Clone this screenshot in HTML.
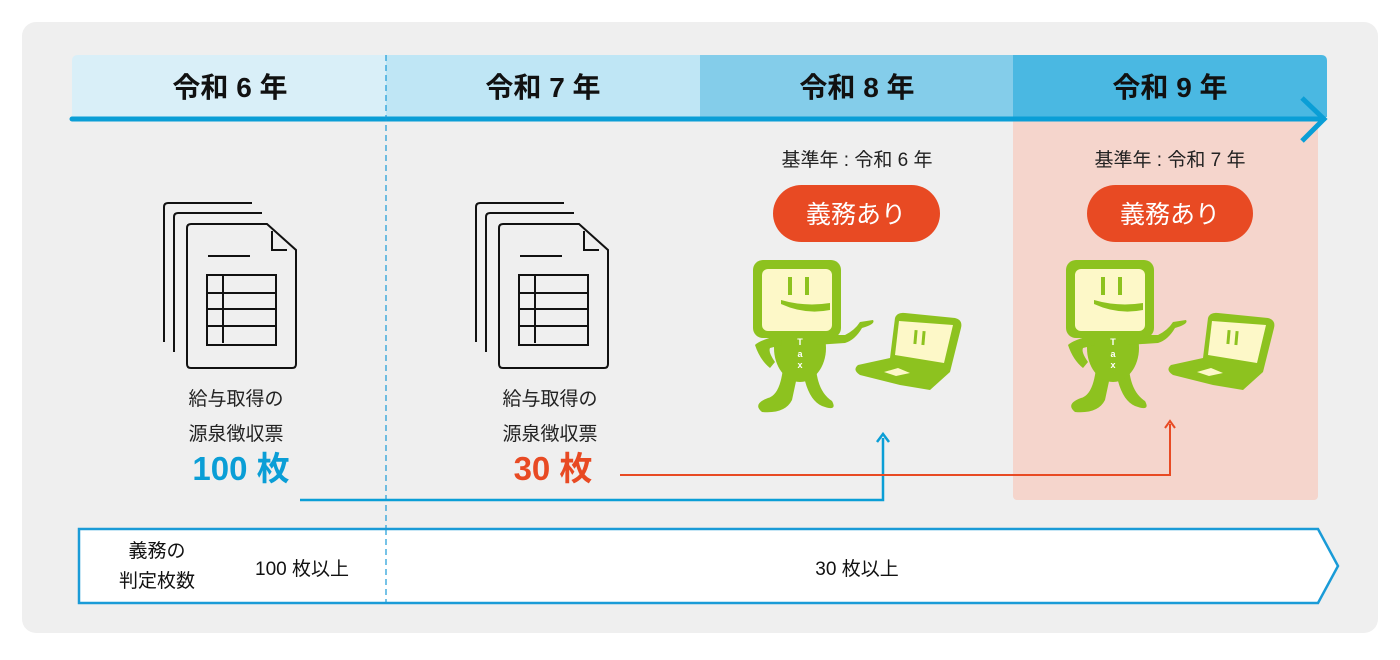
<!DOCTYPE html>
<html><head><meta charset="utf-8"><style>
html,body{margin:0;padding:0;background:#fff;}
body{width:1400px;height:655px;overflow:hidden;font-family:"Liberation Sans","Noto Sans CJK JP",sans-serif;}
</style></head><body>
<svg width="1400" height="655" viewBox="0 0 1400 655" xmlns="http://www.w3.org/2000/svg" font-family="Liberation Sans, Noto Sans CJK JP, sans-serif">
<defs>
<g id="doc" fill="none" stroke="#111" stroke-width="2">
  <path d="M164,342 V207 Q164,203 168,203 H252"/>
  <path d="M174,352 V217 Q174,213 178,213 H262"/>
  <path d="M187,364 V228 Q187,224 191,224 H267 L296,250 V364 Q296,368 292,368 H191 Q187,368 187,364 Z"/>
  <path d="M272,231 V250 H287"/>
  <path d="M208,256 H250"/>
  <rect x="207" y="275" width="69" height="70"/>
  <path d="M223,275 V343 M207,293 H276 M207,309 H276 M207,326 H276"/>
</g>
<g id="chr">
  <path d="M783,368 Q780,395 768,398 Q752,404 762,412 Q785,414 792,400 L798,372 Z" fill="#8dc21f"/>
  <path d="M803,372 Q808,400 822,406 Q838,412 832,401 Q818,392 816,368 Z" fill="#8dc21f"/>
  <ellipse cx="800" cy="348" rx="26" ry="34" fill="#8dc21f"/>
  <path d="M780,335 Q760,340 755,345 Q760,360 770,368 L775,362 Q768,352 770,348 L782,345 Z" fill="#8dc21f"/>
  <path d="M815,335 L845,335 Q855,330 860,322 L873,320 Q876,324 862,328 Q855,340 845,343 L815,345 Z" fill="#8dc21f"/>
  <rect x="753" y="260" width="88" height="78" rx="10" fill="#8dc21f"/>
  <rect x="762" y="269" width="70" height="62" rx="6" fill="#fdf8c8"/>
  <path d="M781,300 Q805,307 830,303 L830,310 Q805,315 781,304 Z" fill="#8dc21f"/>
  <rect x="788" y="277" width="4" height="18" fill="#8dc21f"/>
  <rect x="805" y="277" width="4" height="18" fill="#8dc21f"/>
  <text x="800" y="345" font-size="9" font-weight="bold" fill="#fff" text-anchor="middle">T</text>
  <text x="800" y="357" font-size="9" font-weight="bold" fill="#fff" text-anchor="middle">a</text>
  <text x="800" y="368" font-size="9" font-weight="bold" fill="#fff" text-anchor="middle">x</text>
  <path d="M895,318 Q897,312 905,313 L955,318 Q963,320 961,328 L950,372 L930,390 L900,385 L860,375 Q852,370 858,365 L890,358 Z" fill="#8dc21f"/>
  <path d="M899,321 L953,325 L944,363 L895,355 Z" fill="#fdf8c8"/>
  <rect x="914" y="330" width="3" height="14" fill="#8dc21f" transform="rotate(5 915 337)"/>
  <rect x="922" y="331" width="3" height="14" fill="#8dc21f" transform="rotate(5 923 338)"/>
  <path d="M884,372 L898,368 L910,373 L896,376 Z" fill="#fdf8c8"/>
</g>
</defs>
<rect x="22" y="22" width="1356" height="611" rx="14" fill="#efefef"/>
<path d="M78,55 H386 V117 H72 V61 Q72,55 78,55 Z" fill="#d9eff8"/>
<rect x="386" y="55" width="314" height="62" fill="#bfe6f5"/>
<rect x="700" y="55" width="313" height="62" fill="#84cdea"/>
<path d="M1013,55 H1321 Q1327,55 1327,61 V117 H1013 Z" fill="#4ab8e2"/>
<rect x="1013" y="117" width="305" height="383" rx="4" fill="#f5d5cc"/>
<rect x="1013" y="117" width="305" height="10" fill="#f5d5cc"/>
<line x1="72" y1="119" x2="1324" y2="119" stroke="#0a9ed6" stroke-width="5" stroke-linecap="round"/>
<path d="M1302,98 L1324,119 L1302,141" fill="none" stroke="#0a9ed6" stroke-width="5"/>
<line x1="386" y1="55" x2="386" y2="605" stroke="#1a9bd7" stroke-width="1.2" stroke-dasharray="6,4"/>
<g font-size="28" font-weight="bold" fill="#111" text-anchor="middle">
<text x="230" y="97">令和 6 年</text>
<text x="543" y="97">令和 7 年</text>
<text x="857" y="97">令和 8 年</text>
<text x="1170" y="97">令和 9 年</text>
</g>
<use href="#doc"/>
<use href="#doc" transform="translate(312,0)"/>
<g font-size="19" fill="#222" text-anchor="middle">
<text x="236" y="405">給与取得の</text>
<text x="236" y="440">源泉徴収票</text>
<text x="550" y="405">給与取得の</text>
<text x="550" y="440">源泉徴収票</text>
<text x="857" y="166">基準年 : 令和 6 年</text>
<text x="1170" y="166">基準年 : 令和 7 年</text>
</g>
<text x="241" y="480" font-size="33" font-weight="bold" fill="#0a9ed6" text-anchor="middle">100 枚</text>
<text x="553" y="480" font-size="33" font-weight="bold" fill="#e84a23" text-anchor="middle">30 枚</text>
<rect x="773" y="185" width="167" height="57" rx="28.5" fill="#e84a23"/>
<rect x="1087" y="185" width="166" height="57" rx="28.5" fill="#e84a23"/>
<g font-size="25" fill="#fff" text-anchor="middle">
<text x="856" y="223">義務あり</text>
<text x="1170" y="223">義務あり</text>
</g>
<use href="#chr"/>
<use href="#chr" transform="translate(313,0)"/>
<path d="M300,500 H883 V438" fill="none" stroke="#0a9ed6" stroke-width="2.5"/>
<path d="M877,442 L883,434 L889,442" fill="none" stroke="#0a9ed6" stroke-width="2.5"/>
<path d="M620,475 H1170 V424" fill="none" stroke="#e84a23" stroke-width="2"/>
<path d="M1165,428 L1170,421 L1175,428" fill="none" stroke="#e84a23" stroke-width="2"/>
<path d="M79,529 H1318 L1338,566 L1318,603 H79 Z" fill="#fff" stroke="#1a9bd7" stroke-width="2.5"/>
<line x1="386" y1="529" x2="386" y2="603" stroke="#1a9bd7" stroke-width="1.2" stroke-dasharray="6,4"/>
<g font-size="19" fill="#111" text-anchor="middle">
<text x="157" y="557">義務の</text>
<text x="157" y="587">判定枚数</text>
<text x="302" y="575">100 枚以上</text>
<text x="857" y="575">30 枚以上</text>
</g>
</svg>
</body></html>
